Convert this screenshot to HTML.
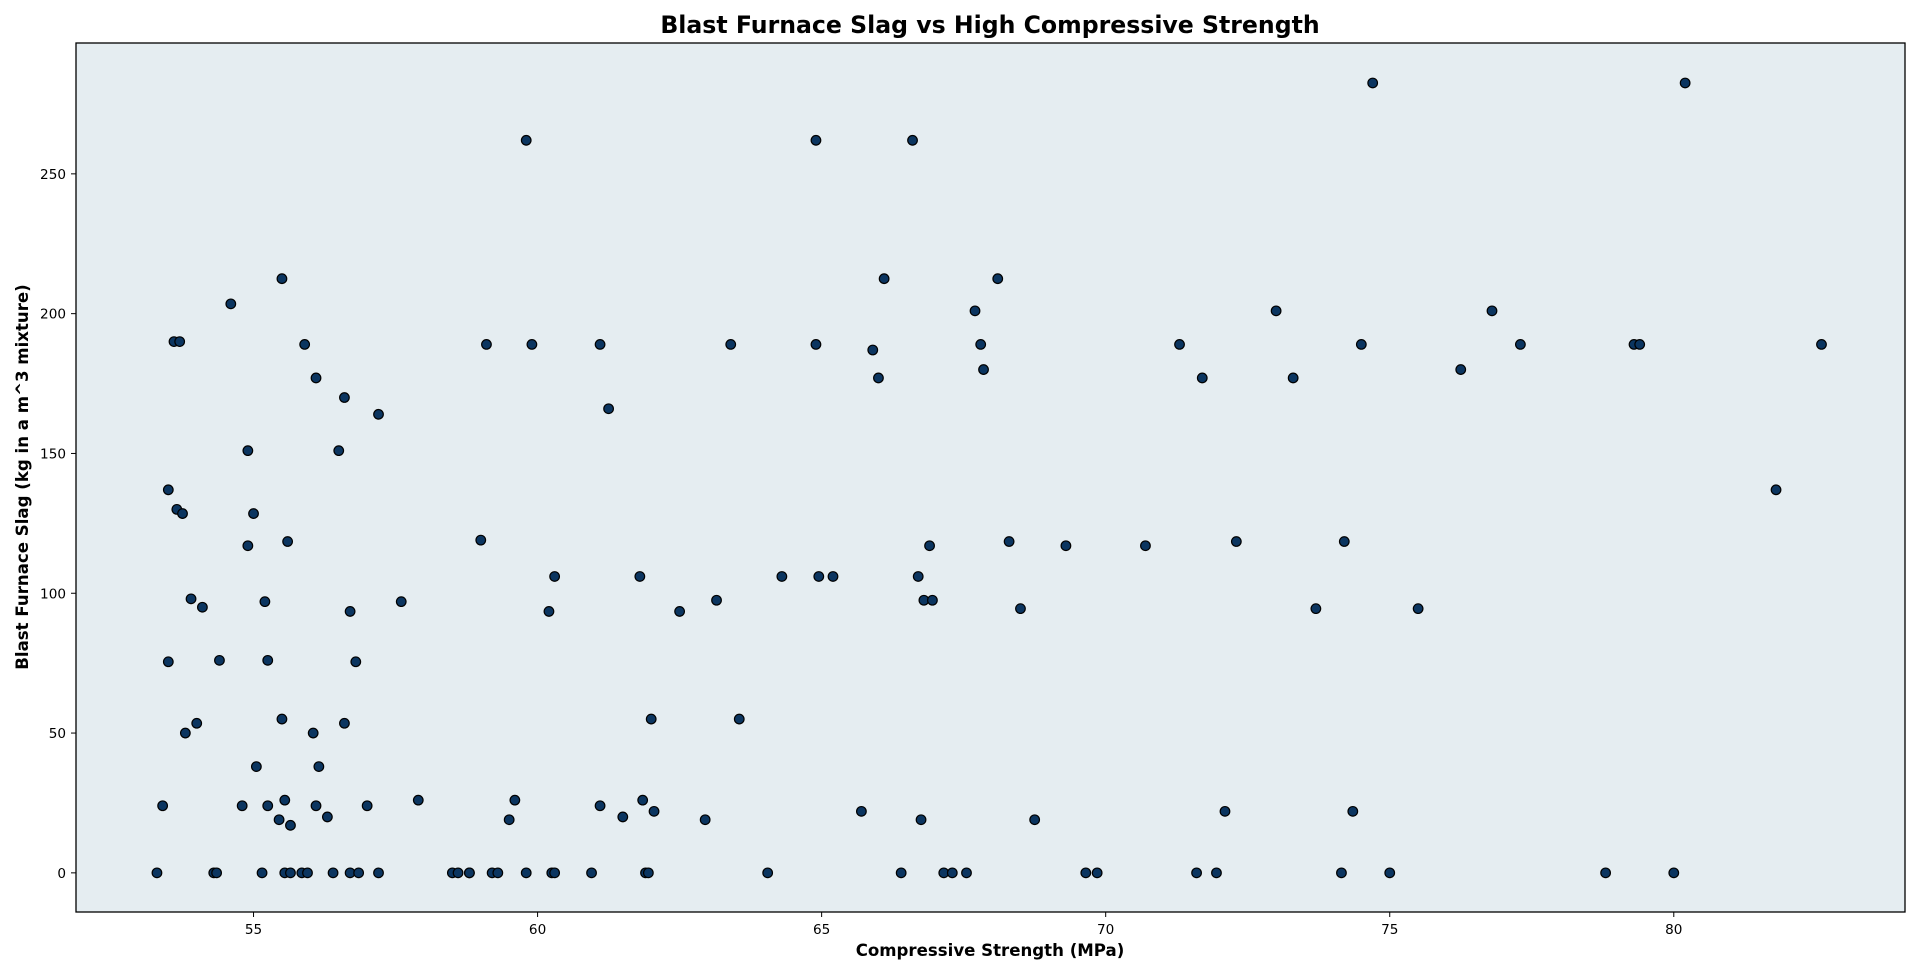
<!DOCTYPE html>
<html><head><meta charset="utf-8"><style>
html,body{margin:0;padding:0;background:#fff;}
svg{display:block;font-family:"DejaVu Sans","Liberation Sans",sans-serif;}
</style></head><body>
<svg id="chart" width="1920" height="975">
<text x="990" y="33" text-anchor="middle" font-size="23.6" font-weight="bold">Blast Furnace Slag vs High Compressive Strength</text>
<rect x="76" y="43" width="1829" height="869" fill="#e5edf1"/>
<g id="marks"></g>
<g id="axes"></g>
<rect x="76" y="43" width="1829" height="869" fill="none" stroke="#000" stroke-width="1.3"/>
<text x="990" y="956" text-anchor="middle" font-size="16.6" font-weight="bold">Compressive Strength (MPa)</text>
<text transform="translate(28,477) rotate(-90)" text-anchor="middle" font-size="16.6" font-weight="bold">Blast Furnace Slag (kg in a m^3 mixture)</text>
</svg>
<script>
const strength=[53.3,53.4,53.5,53.5,53.6,53.7,53.65,53.75,53.8,53.9,54.0,54.1,54.3,54.35,54.4,54.6,54.8,54.9,54.9,55.0,55.05,55.15,55.2,55.25,55.25,55.45,55.5,55.5,55.55,55.55,55.6,55.65,55.65,55.85,55.9,55.95,56.05,56.1,56.1,56.15,56.3,56.4,56.5,56.6,56.6,56.7,56.7,56.8,56.85,57.0,57.2,57.2,57.6,57.9,58.5,58.6,58.8,58.8,59.0,59.1,59.2,59.3,59.5,59.6,59.8,59.8,59.9,60.2,60.25,60.3,60.3,60.95,61.1,61.1,61.25,61.5,61.8,61.85,61.9,61.95,62.0,62.05,62.5,62.95,63.15,63.4,63.55,64.05,64.3,64.9,64.9,64.95,65.2,65.7,65.9,66.0,66.1,66.4,66.6,66.7,66.75,66.8,66.9,66.95,67.15,67.3,67.55,67.7,67.8,67.85,68.1,68.3,68.5,68.75,69.3,69.65,69.85,70.7,71.3,71.6,71.7,71.95,72.1,72.3,73.0,73.3,73.7,74.15,74.2,74.35,74.5,74.7,75.0,75.5,76.25,76.8,77.3,78.8,79.3,79.4,80.0,80.2,81.8,82.6];
const slag=[0,24,75.5,137,190,190,130,128.5,50,98,53.5,95,0,0,76,203.5,24,151,117,128.5,38,0,97,76,24,19,212.5,55,26,0,118.5,17,0,0,189,0,50,177,24,38,20,0,151,170,53.5,93.5,0,75.5,0,24,164,0,97,26,0,0,0,0,119,189,0,0,19,26,262,0,189,93.5,0,106,0,0,189,24,166,20,106,26,0,0,55,22,93.5,19,97.5,189,55,0,106,262,189,106,106,22,187,177,212.5,0,262,106,19,97.5,117,97.5,0,0,0,201,189,180,212.5,118.5,94.5,19,117,0,0,117,189,0,177,0,22,118.5,201,177,94.5,0,118.5,22,189,282.5,0,94.5,180,201,189,0,189,189,0,282.5,137,189];
const xTicks=[55,60,65,70,75,80];
const yTicks=[0,50,100,150,200,250];
const X0=76,X1=1905,Y0=43,Y1=912;
const xMin=51.875,xMax=84.07,yMin=-14,yMax=296.8;
function sx(v){return X0+(v-xMin)/(xMax-xMin)*(X1-X0);}
function sy(v){return Y1-(v-yMin)/(yMax-yMin)*(Y1-Y0);}
const NS="http://www.w3.org/2000/svg";
const marks=document.getElementById('marks'),axes=document.getElementById('axes');
for(let i=0;i<strength.length;i++){
 const c=document.createElementNS(NS,'circle');
 c.setAttribute('cx',sx(strength[i]));c.setAttribute('cy',sy(slag[i]));c.setAttribute('r',4.8);
 c.setAttribute('fill','#0b3560');c.setAttribute('stroke','#000');c.setAttribute('stroke-width','1.2');
 
 
 marks.appendChild(c);
}
xTicks.forEach(t=>{
 const x=sx(t);
 const l=document.createElementNS(NS,'line');
 l.setAttribute('x1',x);l.setAttribute('x2',x);l.setAttribute('y1',Y1);l.setAttribute('y2',Y1+5);l.setAttribute('stroke','#000');
 
 
 axes.appendChild(l);
 const tx=document.createElementNS(NS,'text');
 tx.setAttribute('x',x);tx.setAttribute('y',Y1+22);tx.setAttribute('text-anchor','middle');tx.setAttribute('font-size','13.6');
 tx.textContent=t;
 
 
 axes.appendChild(tx);
});
yTicks.forEach(t=>{
 const y=sy(t);
 const l=document.createElementNS(NS,'line');
 l.setAttribute('x1',X0-5);l.setAttribute('x2',X0);l.setAttribute('y1',y);l.setAttribute('y2',y);l.setAttribute('stroke','#000');
 
 
 axes.appendChild(l);
 const tx=document.createElementNS(NS,'text');
 tx.setAttribute('x',X0-10);tx.setAttribute('y',y+5);tx.setAttribute('text-anchor','end');tx.setAttribute('font-size','13.6');
 tx.textContent=t;
 
 
 axes.appendChild(tx);
});
</script>
</body></html>
